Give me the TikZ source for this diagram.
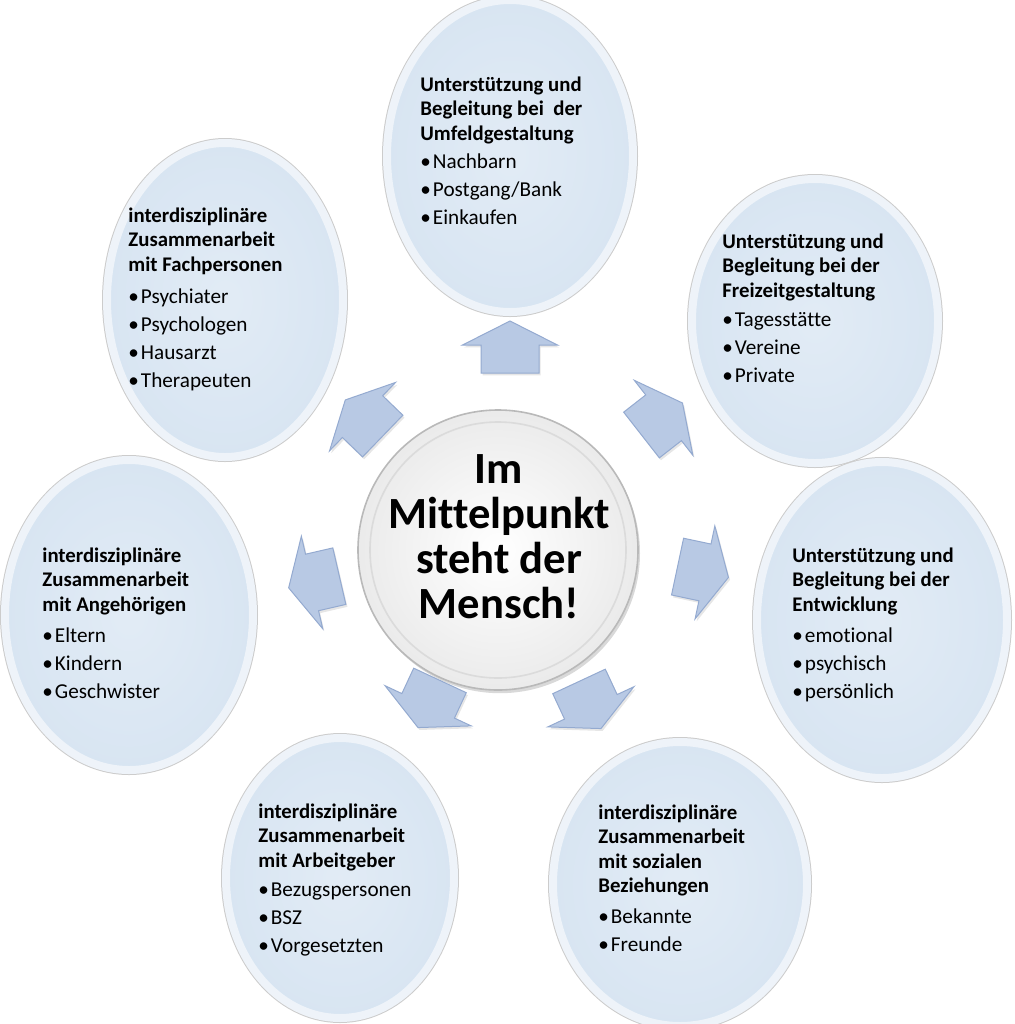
\documentclass[tikz,border=0pt]{standalone}
\usepackage{fontspec}
\setmainfont{Carlito}[Ligatures=NoCommon]
\usetikzlibrary{shapes.geometric,shadows}

\definecolor{bubblefill}{RGB}{216,229,242}
\definecolor{bubblerim}{RGB}{238,243,249}
\definecolor{arrowfill}{RGB}{184,201,228}
\definecolor{arrowline}{RGB}{148,170,208}

% block arrow: x, y, angle
\newcommand{\blockarrow}[3]{%
  \draw[blockarrow, shift={(#1,#2)}, rotate=#3]
    (-26,-29) -- (2,-29) -- (2,-47.5) -- (26,0) -- (2,47.5) -- (2,29) -- (-26,29) -- cycle;}
\newcommand{\bul}{•\hspace{1pt}}

\tikzset{
  bubble/.style={ellipse, inner sep=0pt, draw=bubblerim, line width=4pt,
    inner color=bubblefill!75!white, outer color=bubblefill,
    preaction={draw=gray!40, line width=5pt},
    drop shadow={opacity=0.28, shadow xshift=0.8pt, shadow yshift=-1.4pt}},
  hub/.style={circle, inner sep=0pt, minimum size=140pt, draw=gray!55, line width=0.8pt,
    inner color=white, outer color=gray!16,
    drop shadow={opacity=0.3, shadow xshift=1pt, shadow yshift=-1.6pt}},
  hubring/.style={draw=gray!28, line width=0.8pt},
  blockarrow/.style={fill=arrowfill, draw=arrowline, line width=0.5pt, line join=miter,
    drop shadow={opacity=0.2, shadow xshift=0.8pt, shadow yshift=-1.2pt}},
  title/.style={font=\fontsize{10.4}{12.3}\selectfont\bfseries, align=left, inner sep=0pt, anchor=north west},
  items/.style={font=\fontsize{10.6}{14}\selectfont, align=left, inner sep=0pt, anchor=north west},
  hubtext/.style={font=\fontsize{22.3}{22.5}\selectfont\bfseries, align=center, inner sep=0pt}
}

\begin{document}
\begin{tikzpicture}[x=0.5pt, y=-0.5pt]
\useasboundingbox (0,0) rectangle (1014,1024);

% Bubbles
\node[bubble, minimum width=123pt, minimum height=156pt] (umfeld) at (510,156) {};
\node[bubble, minimum width=118pt, minimum height=157pt] (fach) at (225,300) {};
\node[bubble, minimum width=123pt, minimum height=142pt] (freizeit) at (815,321) {};
\node[bubble, minimum width=124pt, minimum height=155pt] (angeh) at (129,615) {};
\node[bubble, minimum width=125pt, minimum height=158pt] (entw) at (882,620) {};
\node[bubble, minimum width=114pt, minimum height=140pt] (arbeit) at (340,878) {};
\node[bubble, minimum width=127pt, minimum height=142pt] (sozial) at (680,884) {};

% Centre
\node[hub] (hub) at (498,550) {};
\draw[hubring] (hub.center) circle[radius=64pt];
\node[hubtext] (hubtxt) at (499,537) {Im\\Mittelpunkt\\steht der\\Mensch!};

% Arrows
\blockarrow{510}{347}{90}
\blockarrow{662}{419}{38}
\blockarrow{703}{572}{-12}
\blockarrow{590}{705}{-65}
\blockarrow{429}{704}{-115}
\blockarrow{314}{582}{193}
\blockarrow{364}{418}{136}

% Texts
\node[title] (umfeld-t) at (420,76) {Unterstützung und\\Begleitung bei~ der\\Umfeldgestaltung};
\node[items] (umfeld-i) at (420,153.5) {\bul Nachbarn\\\bul Postgang/Bank\\\bul Einkaufen};

\node[title] (fach-t) at (128,207) {interdisziplinäre\\Zusammenarbeit\\mit Fachpersonen};
\node[items] (fach-i) at (128,288.5) {\bul Psychiater\\\bul Psychologen\\\bul Hausarzt\\\bul Therapeuten};

\node[title] (freizeit-t) at (722,233) {Unterstützung und\\Begleitung bei der\\Freizeitgestaltung};
\node[items] (freizeit-i) at (722,312.5) {\bul Tagesstätte\\\bul Vereine\\\bul Private};

\node[title] (angeh-t) at (42,547) {interdisziplinäre\\Zusammenarbeit\\mit Angehörigen};
\node[items] (angeh-i) at (42,627.5) {\bul Eltern\\\bul Kindern\\\bul Geschwister};

\node[title] (entw-t) at (792,547) {Unterstützung und\\Begleitung bei der\\Entwicklung};
\node[items] (entw-i) at (792,627.5) {\bul emotional\\\bul psychisch\\\bul persönlich};

\node[title] (arbeit-t) at (258,803) {interdisziplinäre\\Zusammenarbeit\\mit Arbeitgeber};
\node[items] (arbeit-i) at (258,882.5) {\bul Bezugspersonen\\\bul BSZ\\\bul Vorgesetzten};

\node[title] (sozial-t) at (598,804) {interdisziplinäre\\Zusammenarbeit\\mit sozialen\\Beziehungen};
\node[items] (sozial-i) at (598,908.5) {\bul Bekannte\\\bul Freunde};
\end{tikzpicture}
\end{document}
